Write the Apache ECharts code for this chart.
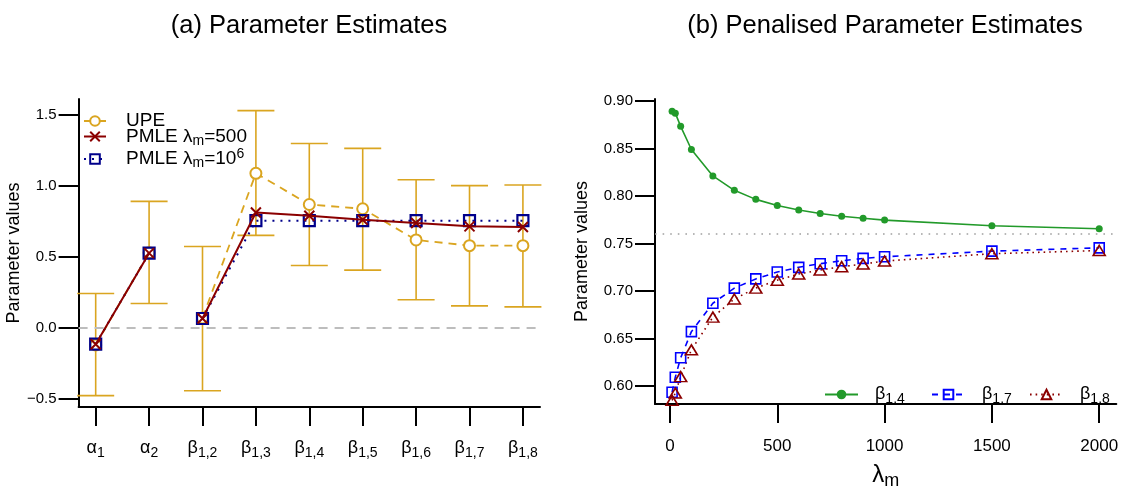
<!DOCTYPE html>
<html><head><meta charset="utf-8">
<script src="https://cdn.jsdelivr.net/npm/echarts@6/dist/echarts.min.js"></script>
<style>html,body{margin:0;padding:0;background:#fff}#c{width:1122px;height:495px}</style>
</head><body><div id="c"></div>
<script>
// ---------- data: panel (a) ----------
const paramSymbols = ['α', 'α', 'β', 'β', 'β', 'β', 'β', 'β', 'β'];
const paramSubs    = ['1', '2', '1,2', '1,3', '1,4', '1,5', '1,6', '1,7', '1,8'];
const upe      = [-0.12, 0.53, 0.07, 1.09, 0.87, 0.84, 0.62, 0.58, 0.58];
const upeLower = [-0.478, 0.172, -0.443, 0.652, 0.44, 0.407, 0.198, 0.155, 0.148];
const upeUpper = [0.242, 0.892, 0.574, 1.532, 1.30, 1.266, 1.045, 1.003, 1.008];
const pmle500  = [-0.115, 0.527, 0.066, 0.814, 0.791, 0.763, 0.739, 0.716, 0.711];
const pmle1e6  = [-0.115, 0.527, 0.066, 0.756, 0.756, 0.756, 0.756, 0.756, 0.756];
const leftYTicks = [-0.5, 0, 0.5, 1.0, 1.5];

// ---------- data: panel (b) ----------
const lambdaM = [10, 25, 50, 100, 200, 300, 400, 500, 600, 700, 800, 900, 1000, 1500, 2000];
const beta14 = [0.8893, 0.8872, 0.8733, 0.849, 0.8212, 0.806, 0.7965, 0.790, 0.7854, 0.7816, 0.7788, 0.7767, 0.7747, 0.7688, 0.7656];
const beta17 = [0.5936, 0.6094, 0.6298, 0.6573, 0.6872, 0.7031, 0.7128, 0.7201, 0.725, 0.7288, 0.7319, 0.7344, 0.7361, 0.742, 0.7455];
const beta18 = [0.585, 0.5927, 0.610, 0.6382, 0.6726, 0.6917, 0.7031, 0.7115, 0.718, 0.7222, 0.7257, 0.7284, 0.7316, 0.7393, 0.7427];
const rightYTicks = [0.60, 0.65, 0.70, 0.75, 0.80, 0.85, 0.90];
const rightXTicks = [0, 500, 1000, 1500, 2000];
const refLevel = 0.7552;

// ---------- helpers ----------
const FONT = 'Liberation Sans, Arial, sans-serif';
const positions = paramSubs.map((_, i) => i + 1);
function withBreaks(values) {
  const out = [];
  values.forEach((v, i) => {
    if (i > 0 && paramSymbols[i] !== paramSymbols[i - 1]) out.push([i + 0.5, '-']);
    out.push([positions[i], v]);
  });
  return out;
}
const errData = positions.map((p, i) => [p, upeLower[i], upeUpper[i]]);
const seriesB = (vals) => lambdaM.map((l, i) => [l, vals[i]]);
const minusFmt = (v) => (v < 0 ? '\u2212' : '') + Math.abs(v).toFixed(1);

const GOLD = '#DAA520', DRED = '#8B0000', NAVY = '#00008B', BLUE = '#0000FF', GREEN = '#229A2A';
const CROSS = 'path://M0,0L10,10M10,0L0,10';
const SQUARE = 'path://M0,0L10,0L10,10L0,10Z';
const TRI = 'path://M5,0L10,8.66L0,8.66Z';

const axisLine = { show: true, onZero: false, lineStyle: { color: '#000', width: 2 } };
const tickStyle = { color: '#000', width: 2 };
const subRich = {
  g: { fontSize: 18, fontFamily: FONT, color: '#000' },
  s: { fontSize: 14, fontFamily: FONT, color: '#000', padding: [9, 0, 0, 0] }
};

const chart = echarts.init(document.getElementById('c'), null, { renderer: 'canvas' });
const option = {
  animation: false,
  backgroundColor: '#fff',
  textStyle: { fontFamily: FONT },
  title: [
    { text: '(a) Parameter Estimates', left: 304, top: 8, textAlign: 'center',
      textStyle: { fontSize: 25.5, fontWeight: 'normal', color: '#000', fontFamily: FONT } },
    { text: '(b) Penalised Parameter Estimates', left: 880, top: 8, textAlign: 'center',
      textStyle: { fontSize: 25.5, fontWeight: 'normal', color: '#000', fontFamily: FONT } }
  ],
  grid: [
    { left: 78.6, top: 99, width: 461.4, height: 308 },
    { left: 655, top: 99, width: 461.3, height: 308 }
  ],
  legend: [
    { data: ['UPE'], left: 83, top: 111.5, itemWidth: 22, itemHeight: 12, padding: 0,
      textStyle: { fontSize: 19, fontFamily: FONT, color: '#000', padding: [0, 0, 0, 15] } },
    { data: ['PMLE500'], left: 83, top: 127, itemWidth: 22, itemHeight: 12, padding: 0,
      formatter: () => '{a|PMLE λ}{s|m}{a|=500}',
      textStyle: { padding: [0, 0, 0, 15], rich: {
        a: { fontSize: 19, fontFamily: FONT, color: '#000' },
        s: { fontSize: 14, fontFamily: FONT, color: '#000', padding: [9, 0, 0, 0] } } } },
    { data: ['PMLE1e6'], left: 83, top: 147, itemWidth: 22, itemHeight: 12, padding: 0,
      formatter: () => '{a|PMLE λ}{s|m}{a|=10}{p|6}',
      textStyle: { padding: [0, 0, 0, 15], rich: {
        a: { fontSize: 19, fontFamily: FONT, color: '#000' },
        s: { fontSize: 14, fontFamily: FONT, color: '#000', padding: [9, 0, 0, 0] },
        p: { fontSize: 14, fontFamily: FONT, color: '#000', padding: [0, 0, 10, 0] } } } },
    { data: ['b14'], left: 824, top: 385.5, itemWidth: 33, itemHeight: 12, padding: 0,
      formatter: () => '{g|β}{s|1,4}', textStyle: { padding: [0, 0, 0, 12], rich: subRich } },
    { data: ['b17'], left: 931, top: 385.5, itemWidth: 33, itemHeight: 12, padding: 0,
      formatter: () => '{g|β}{s|1,7}', textStyle: { padding: [0, 0, 0, 12], rich: subRich } },
    { data: ['b18'], left: 1029, top: 385.5, itemWidth: 33, itemHeight: 12, padding: 0,
      formatter: () => '{g|β}{s|1,8}', textStyle: { padding: [0, 0, 0, 12], rich: subRich } }
  ],
  xAxis: [
    { type: 'value', gridIndex: 0, min: 0.68, max: 9.32, splitLine: { show: false },
      axisLine,
      axisTick: { show: true, length: 19, lineStyle: tickStyle, customValues: positions },
      axisLabel: { customValues: positions, margin: 30,
        formatter: (v) => { const i = Math.round(v) - 1; return '{g|' + paramSymbols[i] + '}{s|' + paramSubs[i] + '}'; },
        rich: subRich } },
    { type: 'value', gridIndex: 1, min: -69.6, max: 2079.6, splitLine: { show: false },
      axisLine,
      axisTick: { show: true, length: 19, lineStyle: tickStyle, customValues: rightXTicks },
      axisLabel: { customValues: rightXTicks, margin: 34, fontSize: 17, color: '#000', fontFamily: FONT,
        formatter: (v) => String(Math.round(v)) },
      name: '{g|λ}{s|m}', nameLocation: 'middle', nameGap: 56,
      nameTextStyle: { rich: {
        g: { fontSize: 24, fontFamily: FONT, color: '#000' },
        s: { fontSize: 18, fontFamily: FONT, color: '#000', padding: [12, 0, 0, 0] } } } }
  ],
  yAxis: [
    { type: 'value', gridIndex: 0, min: -0.558, max: 1.614, splitLine: { show: false },
      axisLine,
      axisTick: { show: true, length: 20, lineStyle: tickStyle, customValues: leftYTicks },
      axisLabel: { customValues: leftYTicks, margin: 22, fontSize: 15, color: '#000', fontFamily: FONT, formatter: minusFmt },
      name: 'Parameter values', nameLocation: 'middle', nameGap: 51,
      nameTextStyle: { fontSize: 18, color: '#000', fontFamily: FONT } },
    { type: 'value', gridIndex: 1, min: 0.5812, max: 0.9021, splitLine: { show: false },
      axisLine,
      axisTick: { show: true, length: 20, lineStyle: tickStyle, customValues: rightYTicks },
      axisLabel: { customValues: rightYTicks, margin: 22, fontSize: 15, color: '#000', fontFamily: FONT, formatter: (v) => v.toFixed(2) },
      name: 'Parameter values', nameLocation: 'middle', nameGap: 64,
      nameTextStyle: { fontSize: 18, color: '#000', fontFamily: FONT } }
  ],
  series: [
    { type: 'custom', name: 'UPE bars', xAxisIndex: 0, yAxisIndex: 0, data: errData, z: 1,
      encode: { x: 0, y: [1, 2] },
      renderItem: (params, api) => {
        const x = api.value(0), lo = api.value(1), hi = api.value(2);
        const a = api.coord([x, lo]), b = api.coord([x, hi]);
        const hw = 18.5, st = { stroke: GOLD, lineWidth: 1.6 };
        return { type: 'group', children: [
          { type: 'line', shape: { x1: a[0], y1: a[1], x2: b[0], y2: b[1] }, style: st },
          { type: 'line', shape: { x1: a[0] - hw, y1: a[1], x2: a[0] + hw, y2: a[1] }, style: st },
          { type: 'line', shape: { x1: b[0] - hw, y1: b[1], x2: b[0] + hw, y2: b[1] }, style: st }
        ] };
      } },
    { type: 'line', name: 'UPE', xAxisIndex: 0, yAxisIndex: 0, data: withBreaks(upe), z: 2,
      symbol: 'emptyCircle', symbolSize: 11, connectNulls: false,
      lineStyle: { color: GOLD, width: 1.8, type: [8, 6] },
      itemStyle: { color: GOLD, borderColor: GOLD, borderWidth: 1.8 },
      markLine: { silent: true, symbol: 'none', label: { show: false },
        lineStyle: { color: '#BDBDBD', width: 2, type: [9, 7] }, data: [{ yAxis: 0 }] } },
    { type: 'line', name: 'PMLE1e6', xAxisIndex: 0, yAxisIndex: 0, data: withBreaks(pmle1e6), z: 3,
      symbol: SQUARE, symbolSize: 11, connectNulls: false,
      lineStyle: { color: NAVY, width: 2, type: [2, 6] },
      itemStyle: { color: 'rgba(0,0,0,0)', borderColor: NAVY, borderWidth: 2.2 } },
    { type: 'line', name: 'PMLE500', xAxisIndex: 0, yAxisIndex: 0, data: withBreaks(pmle500), z: 4,
      symbol: CROSS, symbolSize: 10, connectNulls: false,
      lineStyle: { color: DRED, width: 2 },
      itemStyle: { color: 'rgba(0,0,0,0)', borderColor: DRED, borderWidth: 2 } },
    { type: 'line', name: 'b14', xAxisIndex: 1, yAxisIndex: 1, data: seriesB(beta14),
      symbol: 'circle', symbolSize: 7,
      lineStyle: { color: GREEN, width: 1.6 }, itemStyle: { color: GREEN },
      markLine: { silent: true, symbol: 'none', label: { show: false },
        lineStyle: { color: '#A0A0A0', width: 1.6, type: [1.6, 6] }, data: [{ yAxis: refLevel }] } },
    { type: 'line', name: 'b17', xAxisIndex: 1, yAxisIndex: 1, data: seriesB(beta17),
      symbol: SQUARE, symbolSize: 10,
      lineStyle: { color: BLUE, width: 1.6, type: [6, 6] },
      itemStyle: { color: 'rgba(0,0,0,0)', borderColor: BLUE, borderWidth: 1.6 } },
    { type: 'line', name: 'b18', xAxisIndex: 1, yAxisIndex: 1, data: seriesB(beta18),
      symbol: TRI, symbolSize: [12, 10],
      lineStyle: { color: DRED, width: 1.6, type: [1.6, 4] },
      itemStyle: { color: 'rgba(0,0,0,0)', borderColor: DRED, borderWidth: 1.6 } }
  ]
};
chart.setOption(option);
</script></body></html>
